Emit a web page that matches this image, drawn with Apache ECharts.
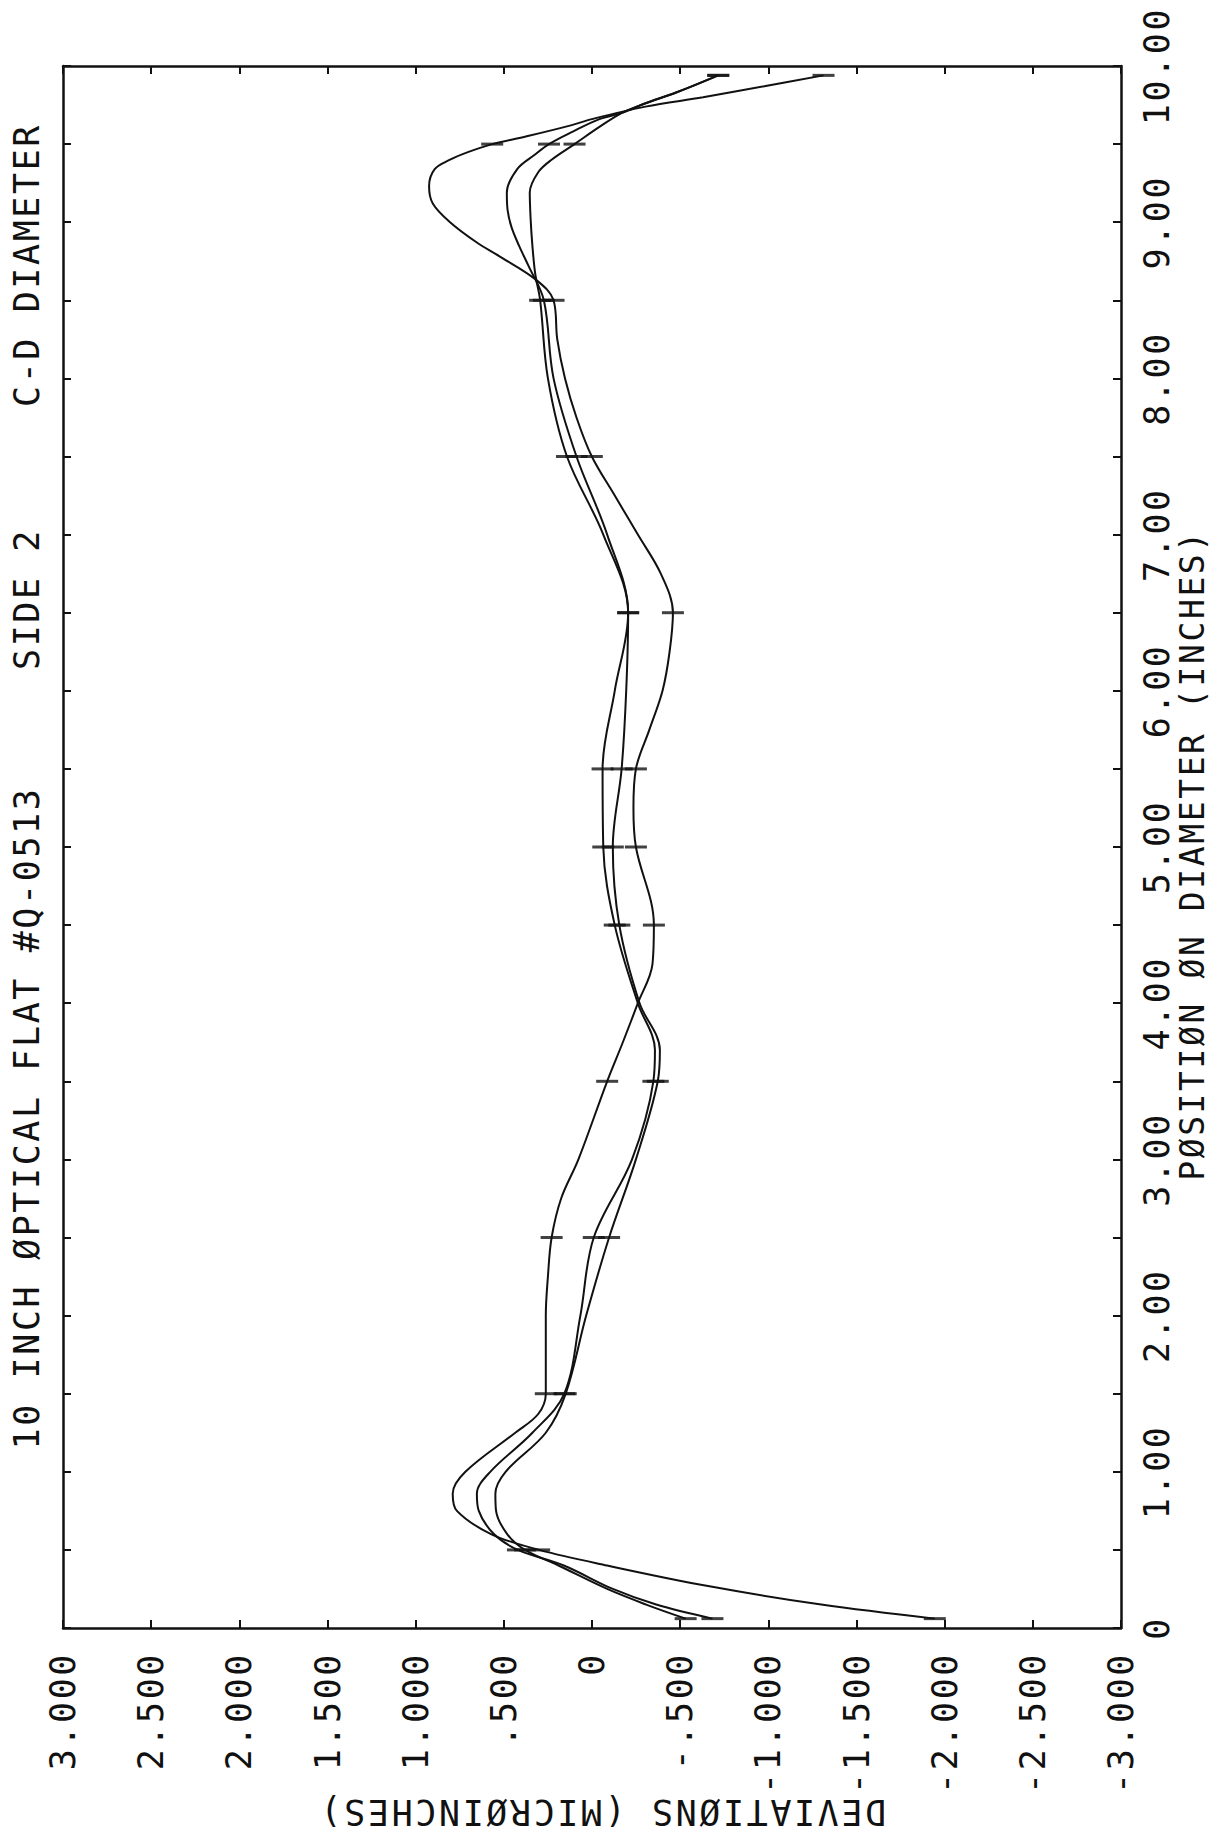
<!DOCTYPE html>
<html>
<head>
<meta charset="utf-8">
<script src="https://cdn.jsdelivr.net/npm/echarts@6/dist/echarts.min.js"></script>
<style>
  html, body { margin: 0; padding: 0; background: #fff; }
  #chart { width: 1221px; height: 1846px; }
  /* plotter lettering: wide, even character pitch */
  #chart text { letter-spacing: 2.6px; }
</style>
</head>
<body>
<div id="chart"></div>
<script>
// Measurement stations along the diameter (inches) and the deviation of each trace there (microinches)
const markPos = [0.06, 0.5, 1.5, 2.5, 3.5, 4.5, 5.0, 5.5, 6.5, 7.5, 8.5, 9.5, 9.94];
const markA = [-1.944, 0.30, 0.262, 0.229, -0.086, -0.351, -0.249, -0.249, -0.459, 0.001, 0.218, 0.566, -1.313];
const markB = [-0.683, 0.42, 0.157, -0.010, -0.348, -0.129, -0.064, -0.060, -0.205, 0.142, 0.294, 0.099, -0.716];
const markC = [-0.531, 0.38, 0.149, -0.097, -0.373, -0.155, -0.118, -0.168, -0.205, 0.088, 0.273, 0.244, -0.716];

// Additional points along each fitted curve between stations: [position, deviation]
const traceA = [[0.15,-1.30],[0.27,-0.65],[0.40,-0.086],[0.60,0.57],[0.75,0.766],[0.86,0.79],[1.0,0.718],[1.25,0.435],[1.37,0.305],[2.0,0.262],[2.25,0.25],[2.75,0.175],[3.0,0.077],[3.75,-0.175],[4.0,-0.26],[4.25,-0.343],[5.25,-0.235],[5.75,-0.325],[6.0,-0.40],[6.25,-0.44],[6.75,-0.39],[7.0,-0.26],[7.25,-0.129],[7.75,0.088],[8.0,0.153],[8.25,0.197],[8.63,0.316],[8.78,0.522],[8.87,0.653],[9.0,0.805],[9.12,0.903],[9.23,0.924],[9.34,0.892],[9.40,0.805],[9.45,0.70],[9.55,0.37],[9.62,0.12],[9.66,0.001],[9.74,-0.303],[9.80,-0.63],[9.87,-0.977]];
const traceB = [[0.15,-0.364],[0.25,-0.118],[0.40,0.16],[0.60,0.555],[0.75,0.642],[0.86,0.653],[1.0,0.577],[1.25,0.338],[2.0,0.066],[3.0,-0.227],[3.7,-0.357],[4.0,-0.26],[6.0,-0.129],[7.0,-0.064],[8.0,0.25],[8.67,0.322],[8.85,0.338],[9.02,0.348],[9.19,0.353],[9.32,0.305],[9.40,0.229],[9.61,-0.042],[9.70,-0.17],[9.76,-0.30],[9.83,-0.477]];
const traceC = [[0.15,-0.307],[0.25,-0.086],[0.40,0.19],[0.60,0.48],[0.75,0.544],[0.86,0.548],[1.0,0.49],[1.25,0.262],[2.0,0.033],[3.0,-0.249],[3.7,-0.385],[4.0,-0.27],[6.0,-0.194],[7.0,-0.086],[8.0,0.218],[8.72,0.36],[8.85,0.414],[8.97,0.457],[9.08,0.479],[9.19,0.483],[9.34,0.424],[9.43,0.327],[9.58,0.109],[9.66,-0.042],[9.70,-0.17],[9.76,-0.30],[9.83,-0.477]];

// Text
const titleParts = ['10 INCH ØPTICAL FLAT #Q-0513', 'SIDE 2', 'C-D DIAMETER'];
const positionName = 'PØSITIØN ØN DIAMETER (INCHES)';
const deviationName = 'DEVIATIØNS (MICRØINCHES)';

const FONT = '"DejaVu Sans Mono", "Liberation Mono", monospace';
const INK = '#111';

// curve = station points plus intermediate points, ordered along the diameter; plotted as [deviation, position]
function curveData(marks, trace) {
  const pts = markPos.map((p, i) => [p, marks[i]]).concat(trace);
  pts.sort((a, b) => a[0] - b[0]);
  return pts.map(([p, d]) => [d, p]);
}
function stationData(marks) {
  return markPos.map((p, i) => [marks[i], p]);
}

function devLabel(v) {
  const r = Math.round(v * 1000) / 1000;
  if (r === 0) return '0';
  let s = Math.abs(r).toFixed(3);
  if (Math.abs(r) < 1) s = s.replace(/^0/, '');
  return (r < 0 ? '-' : '') + s;
}
function posLabel(v) {
  const r = Math.round(v * 100) / 100;
  if (Math.abs(r - Math.round(r)) > 1e-6) return '';
  return r === 0 ? '0' : r.toFixed(2);
}

const axisLineStyle = { color: INK, width: 2.5 };
const tickStyle = { show: true, inside: true, length: 8, lineStyle: { color: INK, width: 2 } };
const labelFont = { fontFamily: FONT, fontSize: 35, color: INK };

const lineSeries = (name, marks, trace) => ({
  name, type: 'line', xAxisIndex: 0, yAxisIndex: 0,
  data: curveData(marks, trace),
  smooth: 0.35, showSymbol: false, symbol: 'none',
  lineStyle: { color: INK, width: 2 }, z: 3
});
const stationSeries = (name, marks) => ({
  name, type: 'scatter', xAxisIndex: 0, yAxisIndex: 0,
  data: stationData(marks),
  symbol: 'rect', symbolSize: [22, 3],
  itemStyle: { color: INK }, z: 4
});

const chart = echarts.init(document.getElementById('chart'), null, { renderer: 'svg', width: 1221, height: 1846 });
chart.setOption({
  animation: false,
  backgroundColor: '#ffffff',
  grid: { left: 63, top: 66, width: 1058, height: 1562, show: false },
  xAxis: [
    {
      type: 'value', position: 'bottom', min: -3, max: 3, interval: 0.5, inverse: true,
      axisLine: { show: true, onZero: false, lineStyle: axisLineStyle },
      axisTick: tickStyle,
      splitLine: { show: false },
      axisLabel: Object.assign({ rotate: 90, margin: 24, formatter: devLabel, showMinLabel: true, showMaxLabel: true, hideOverlap: false }, labelFont)
    },
    {
      type: 'value', position: 'top', min: -3, max: 3, interval: 0.5, inverse: true,
      axisLine: { show: true, onZero: false, lineStyle: axisLineStyle },
      axisTick: tickStyle,
      splitLine: { show: false },
      axisLabel: { show: false }
    }
  ],
  yAxis: [
    {
      type: 'value', position: 'left', min: 0, max: 10, interval: 0.5,
      axisLine: { show: true, onZero: false, lineStyle: axisLineStyle },
      axisTick: tickStyle,
      splitLine: { show: false },
      axisLabel: { show: false }
    },
    {
      type: 'value', position: 'right', min: 0, max: 10, interval: 0.5,
      axisLine: { show: true, onZero: false, lineStyle: axisLineStyle },
      axisTick: tickStyle,
      splitLine: { show: false },
      axisLabel: Object.assign({ rotate: 90, margin: 18, formatter: posLabel, showMinLabel: true, showMaxLabel: true, hideOverlap: false }, labelFont)
    }
  ],
  graphic: [
    { type: 'text', x: 27, y: 1118, rotation: Math.PI / 2,
      style: { text: titleParts[0], font: '35px ' + FONT, fill: INK, align: 'center', verticalAlign: 'middle' } },
    { type: 'text', x: 27, y: 599, rotation: Math.PI / 2,
      style: { text: titleParts[1], font: '35px ' + FONT, fill: INK, align: 'center', verticalAlign: 'middle' } },
    { type: 'text', x: 27, y: 265, rotation: Math.PI / 2,
      style: { text: titleParts[2], font: '35px ' + FONT, fill: INK, align: 'center', verticalAlign: 'middle' } },
    { type: 'text', x: 1192, y: 855, rotation: Math.PI / 2,
      style: { text: positionName, font: '33px ' + FONT, fill: INK, align: 'center', verticalAlign: 'middle' } },
    { type: 'text', x: 602, y: 1812, rotation: Math.PI,
      style: { text: deviationName, font: '35px ' + FONT, fill: INK, align: 'center', verticalAlign: 'middle' } }
  ],
  series: [
    lineSeries('A', markA, traceA),
    lineSeries('B', markB, traceB),
    lineSeries('C', markC, traceC),
    stationSeries('A stations', markA),
    stationSeries('B stations', markB),
    stationSeries('C stations', markC)
  ]
});
</script>
</body>
</html>
